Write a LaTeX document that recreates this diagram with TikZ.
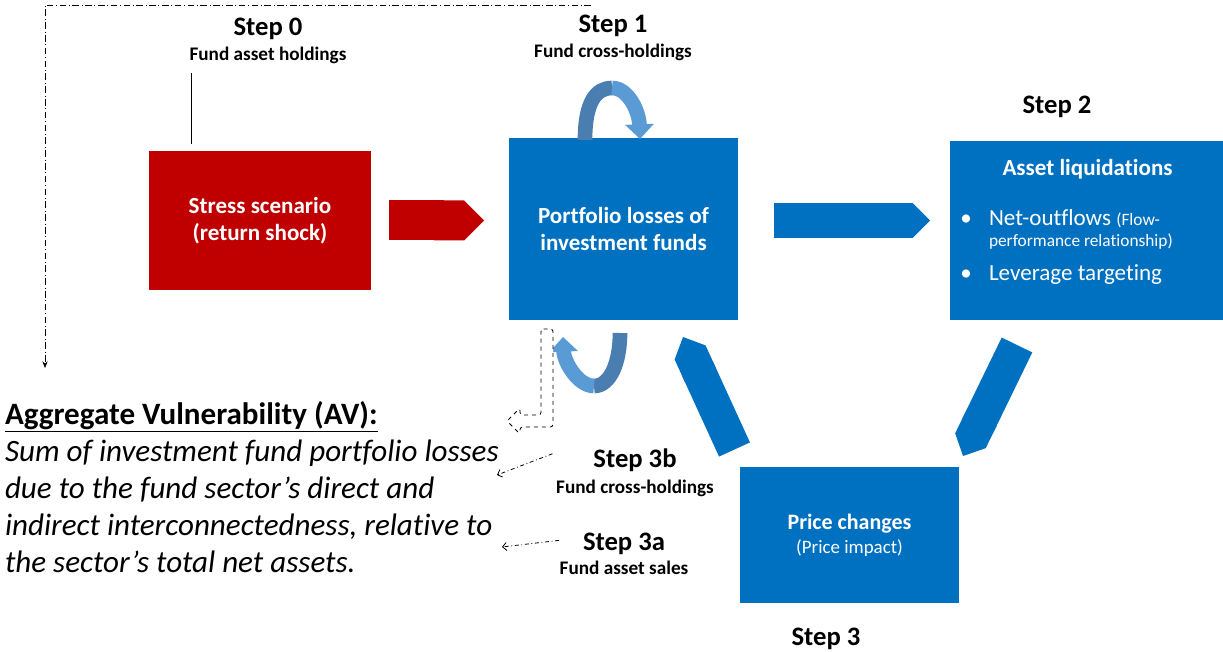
\documentclass[tikz,border=0pt]{standalone}
\usepackage{fontspec}
\setmainfont{Carlito}[Ligatures=NoCommon]
\usepackage{xcolor}
\usetikzlibrary{arrows.meta,calc,positioning}
\definecolor{shockred}{HTML}{C00000}
\definecolor{fundblue}{HTML}{0070C0}
\definecolor{loopdark}{HTML}{4A7EB0}
\definecolor{looplight}{HTML}{5B9BD5}

\begin{document}
\begin{tikzpicture}
  [x=0.75pt,y=-0.75pt,
   every node/.style={inner sep=0pt,outer sep=0pt},
   stepbox/.style={rectangle,fill=fundblue,text=white,align=center,font=\bfseries\fontsize{17.3}{20.5}\selectfont},
   steptitle/.style={anchor=base,font=\bfseries\fontsize{20}{24}\selectfont},
   stepnote/.style={anchor=base,font=\bfseries\fontsize{14.4}{17}\selectfont},
   bullettext/.style={anchor=base west,text=white,font=\fontsize{17.3}{20}\selectfont},
   blockarrow/.style={line width=25.5pt,fundblue,-{Triangle Cap[]}},
   loopdk/.style={line width=11pt,loopdark},
   looplt/.style={line width=11pt,looplight,-{Triangle[width=21pt,length=11pt]}},
   feedback/.style={line width=0.6pt,dash dot,-{Straight Barb[length=3pt,width=6pt]}}]
\useasboundingbox (0,0) rectangle (1223,652);
% boxes
\node[stepbox,fill=shockred,minimum width=166.5pt,minimum height=104.25pt] (stress) at (260,220.5) {Stress scenario\\(return shock)};
\node[stepbox,minimum width=171.75pt,minimum height=136.5pt] (loss) at (623.5,229) {Portfolio losses of\\investment funds};
\node[stepbox,minimum width=204.75pt,minimum height=134.25pt] (liquid) at (1086.5,230.5) {};
\node[stepbox,minimum width=164.25pt,minimum height=102pt,font=\bfseries\fontsize{16.5}{18}\selectfont] (price) at (849.5,535) {Price changes\\{\mdseries\fontsize{14.2}{17}\selectfont(Price impact)}};
% content of step 2
\node[stepbox,fill=none,anchor=base] (liqtitle) at ($(liquid.north)+(1,35)$) {Asset liquidations};
\node[bullettext] (nof) at (989,225) {Net-outflows {\fontsize{13}{15}\selectfont(Flow-}};
\node[bullettext,font=\fontsize{13}{15}\selectfont] (nof2) at ($(nof.base west)+(0,22)$) {performance relationship)};
\node[bullettext] (lev) at ($(nof.base west)+(0,55)$) {Leverage targeting};
\node[bullettext,anchor=base] at ($(nof.base west)+(-23,0)$) {\textbullet};
\node[bullettext,anchor=base] at ($(lev.base west)+(-23,0)$) {\textbullet};
% step labels
\node[steptitle] (s0) at (268,36) {Step 0};
\node[stepnote] (s0n) at (268,61) {Fund asset holdings};
\node[steptitle] (s1) at (613,33) {Step 1};
\node[stepnote] (s1n) at (613,58) {Fund cross-holdings};
\node[steptitle] (s2) at (1057,114) {Step 2};
\node[steptitle] (s3) at (826,645) {Step 3};
\node[steptitle] (s3b) at (635,467) {Step 3b};
\node[stepnote] (s3bn) at (635,493) {Fund cross-holdings};
\node[steptitle] (s3a) at (624,550) {Step 3a};
\node[stepnote] (s3an) at (624,574) {Fund asset sales};
% aggregate vulnerability (base = last line)
\node[anchor=base west,align=left,font=\fontsize{23.3}{27.75}\selectfont] (av) at (5,572)
  {\textbf{\underline{Aggregate Vulnerability (AV):}}\\
   \textit{Sum of investment fund portfolio losses}\\
   \textit{due to the fund sector’s direct and}\\
   \textit{indirect interconnectedness, relative to}\\
   \textit{the sector’s total net assets.}};
% block arrows
\draw[blockarrow,shockred,line width=30pt] ($(stress.east)+(18,0)$) -- ($(loss.west)+(-25,-8.5)$);
\draw[blockarrow,line width=26pt] ($(loss.east)+(36,-8.5)$) -- ($(liquid.west)+(-20,-10)$);
\draw[blockarrow] ($(liquid.south west)+(67,25)$) -- ($(price.north east)+(4,-11)$);
\draw[blockarrow] ($(price.north west)+(-5.5,-17.5)$) -- ($(loss.south east)+(-55,17)$);
% loops on the fund box
\coordinate (toppeak) at ($(loss.north)+(-11.5,-50)$);
\draw[loopdk] ($(loss.north)+(-38.5,2)$) .. controls +(0,-38) and +(-16,0) .. (toppeak);
\draw[looplt] (toppeak) .. controls +(16,0) and +(-1,-28) .. ($(loss.north)+(16.5,1)$);
\coordinate (botpeak) at ($(loss.south)+(-29.5,66)$);
\draw[loopdk] ($(loss.south)+(-3.5,13)$) .. controls +(0,30) and +(16,0) .. (botpeak);
\draw[looplt] (botpeak) .. controls +(-16,0) and +(1,25) .. ($(loss.south)+(-60.5,17)$);
% hollow bent arrow
\begin{scope}[shift={(loss.south)}]
\draw[dashed,line width=0.6pt,fill=white,rounded corners=2pt]
  (-82.5,9) -- (-70.5,9) -- (-70.5,107) -- (-103.5,107) -- (-103.5,114) -- (-116.5,101)
  -- (-103.5,88) -- (-103.5,95) -- (-82.5,95) -- cycle;
\end{scope}
% feedback lines
\coordinate (avtop) at (45,368);
\draw[line width=0.6pt,dash pattern=on 5pt off 2pt on 0.6pt off 2pt,-{Stealth[length=5pt,width=4pt]}] (591,5) -- (45,5) -- (avtop);
\draw[thin] ($(stress.north west)+(42,-78)$) -- ($(stress.north west)+(42,-7)$);
\coordinate (avb) at (497,475);
\coordinate (ava) at (502,547);
\draw[feedback] ($(s3b.west)+(-41,-6)$) -- (avb);
\draw[feedback] ($(s3a.west)+(-24,-3)$) -- (ava);
\end{tikzpicture}
\end{document}
